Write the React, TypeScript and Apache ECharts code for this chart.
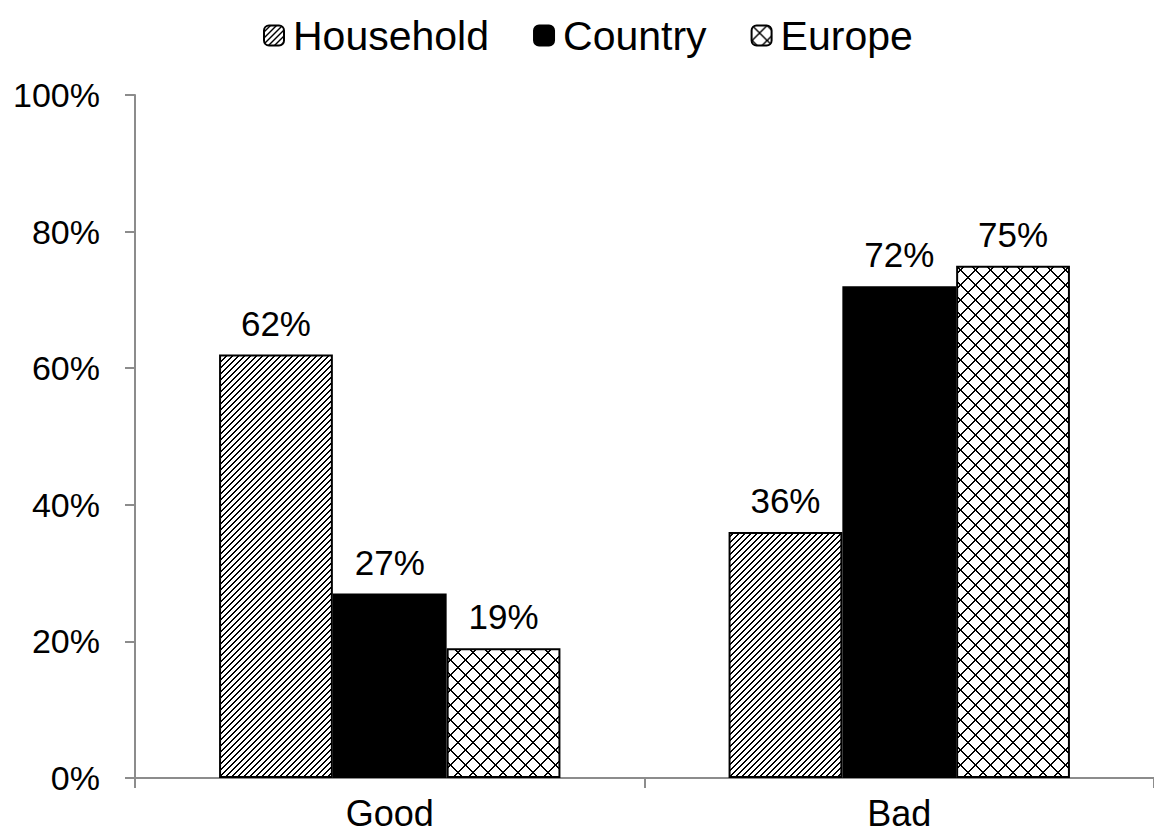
import React, { useEffect, useRef } from "react";
import * as echarts from "echarts";

const categories = ["Good", "Bad"];
const seriesNames = ["Household", "Country", "Europe"];
const householdValues = [62, 36];
const countryValues = [27, 72];
const europeValues = [19, 75];
const yTicks = { min: 0, max: 100, interval: 20 };

const FONT = "'Liberation Sans', Arial, sans-serif";

// Fine upward diagonal hatch
function makeDiagonalPattern(): HTMLCanvasElement {
  const size = 6;
  const c = document.createElement("canvas");
  c.width = size;
  c.height = size;
  const ctx = c.getContext("2d")!;
  ctx.fillStyle = "#ffffff";
  ctx.fillRect(0, 0, size, size);
  ctx.fillStyle = "#000000";
  for (let i = 0; i < size; i++) {
    const y = size - 1 - i;
    ctx.fillRect(i, y, 1, 1);
    ctx.fillRect((i + 1) % size, y, 1, 1);
  }
  return c;
}

// Outlined diamond (rotated cross-hatch) fill
function makeDiamondPattern(): HTMLCanvasElement {
  const size = 15;
  const c = document.createElement("canvas");
  c.width = size;
  c.height = size;
  const ctx = c.getContext("2d")!;
  ctx.fillStyle = "#ffffff";
  ctx.fillRect(0, 0, size, size);
  ctx.fillStyle = "#000000";
  for (let i = 0; i < size; i++) {
    ctx.fillRect(i, i, 1, 1);
    ctx.fillRect((i + 1) % size, i, 1, 1);
    ctx.fillRect(size - 1 - i, i, 1, 1);
    ctx.fillRect((size - i) % size, i, 1, 1);
  }
  return c;
}

export default function App() {
  const ref = useRef<HTMLDivElement>(null);

  useEffect(() => {
    if (!ref.current) return;
    const chart = echarts.init(ref.current, null, { renderer: "svg" });

    const diag = makeDiagonalPattern();
    const diamond = makeDiamondPattern();

    const labelStyle = {
      show: true,
      position: "top" as const,
      distance: 14,
      formatter: "{c}%",
      color: "#000",
      fontFamily: FONT,
      fontSize: 35,
    };

    const makeSeries = (name: string, data: number[], color: any) => ({
      name,
      type: "bar",
      data,
      barGap: "0%",
      barCategoryGap: "33%",
      itemStyle: { color, borderColor: "#000", borderWidth: 2 },
      label: labelStyle,
      emphasis: { disabled: true },
    });

    chart.setOption({
      animation: false,
      backgroundColor: "#ffffff",
      legend: {
        data: seriesNames,
        top: 10,
        left: 258,
        itemWidth: 20,
        itemHeight: 20,
        itemGap: 44,
        textStyle: {
          color: "#000",
          fontFamily: FONT,
          fontSize: 41,
          padding: [0, 0, 0, 4],
        },
      },
      grid: { left: 135, right: -4, top: 95, bottom: 60, containLabel: false },
      xAxis: {
        type: "category",
        data: categories,
        axisLine: { lineStyle: { color: "#8c8c8c", width: 2 } },
        axisTick: { show: true, length: 10, lineStyle: { color: "#8c8c8c", width: 2 } },
        axisLabel: { color: "#000", fontFamily: FONT, fontSize: 36, margin: 17 },
      },
      yAxis: {
        type: "value",
        min: yTicks.min,
        max: yTicks.max,
        interval: yTicks.interval,
        axisLine: { show: true, lineStyle: { color: "#8c8c8c", width: 2 } },
        axisTick: { show: true, length: 10, lineStyle: { color: "#8c8c8c", width: 2 } },
        splitLine: { show: false },
        axisLabel: {
          color: "#000",
          fontFamily: FONT,
          fontSize: 34,
          margin: 35,
          formatter: "{value}%",
        },
      },
      series: [
        makeSeries(seriesNames[0], householdValues, {
          image: diag,
          repeat: "repeat",
          imageWidth: 6,
          imageHeight: 6,
        }),
        makeSeries(seriesNames[1], countryValues, "#000000"),
        makeSeries(seriesNames[2], europeValues, {
          image: diamond,
          repeat: "repeat",
          imageWidth: 15,
          imageHeight: 15,
        }),
      ],
    });

    return () => chart.dispose();
  }, []);

  return (
    <div
      ref={ref}
      style={{ position: "fixed", left: 0, top: 0, width: 1154, height: 838, background: "#fff" }}
    />
  );
}
